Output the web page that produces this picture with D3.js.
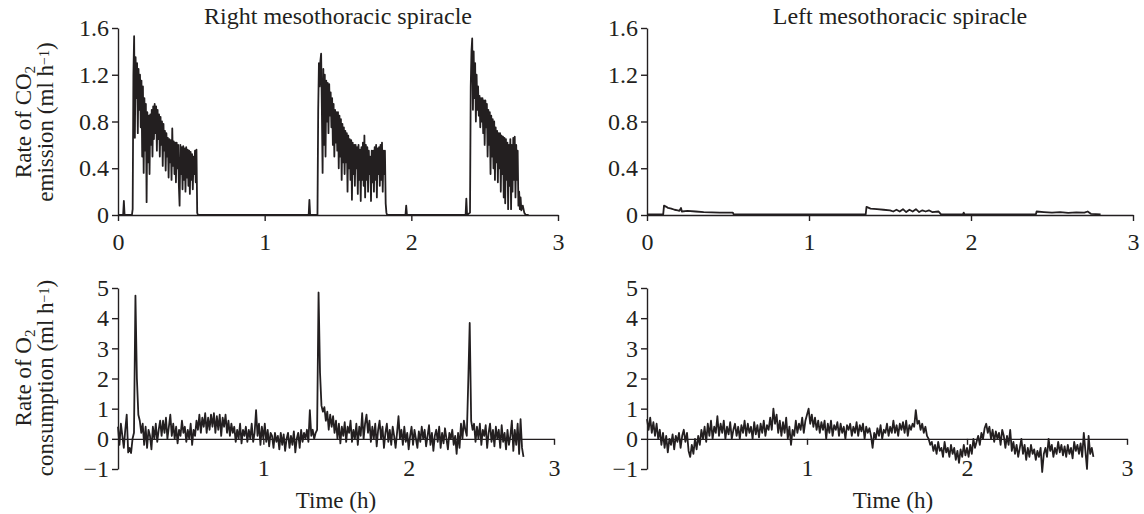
<!doctype html>
<html lang="en">
<head>
<meta charset="utf-8">
<title>Spiracle gas exchange</title>
<script src="https://cdn.jsdelivr.net/npm/d3@7"></script>
<style>
  body { margin: 0; background: #fff; }
  svg { display: block; font-family: "Liberation Serif", "Times New Roman", serif; }
  .axis path, .axis line { stroke: #231f20; stroke-width: 1.4; }
  .axis text { fill: #231f20; font-size: 24px; font-family: "Liberation Serif", "Times New Roman", serif; }
  .trace { fill: none; stroke: #231f20; stroke-width: 1.8; stroke-linejoin: round; }
  .label { fill: #231f20; font-size: 23px; }
  .title { fill: #231f20; font-size: 24px; }
</style>
</head>
<body>
<svg id="chart" width="1144" height="514"></svg>
<script>
// tick labels
const timeTicks = [0, 1, 2, 3];
const timeTicksLower = [1, 2, 3];
const co2Ticks = [0, 0.4, 0.8, 1.2, 1.6];
const o2Ticks = [-1, 0, 1, 2, 3, 4, 5];

// CO2, right spiracle: [time (h), ml h-1]; flat zero stretches and small blips
const rightCO2Base = [
  [0, 0], [0.035, 0], [0.04, 0.12], [0.045, 0], [0.095, 0], [0.1, 0.05],
  [0.545, 0], [1.3, 0], [1.305, 0.13], [1.31, 0], [1.36, 0],
  [1.835, 0], [1.96, 0], [1.965, 0.08], [1.97, 0], [2.37, 0], [2.375, 0.14], [2.38, 0], [2.4, 0.02],
  [2.8, 0]
];
// the three bursts
const rightCO2Burst1 = [
  [0.105, 1.2], [0.11, 1.53], [0.115, 0.66], [0.12, 1.35], [0.125, 1.0], [0.13, 1.3], [0.135, 0.7],
  [0.14, 1.25], [0.145, 0.9], [0.15, 1.2], [0.155, 0.75], [0.16, 1.15], [0.165, 0.5], [0.17, 1.1],
  [0.175, 0.36], [0.18, 1.0], [0.185, 0.55], [0.19, 0.95], [0.195, 0.11], [0.2, 0.88], [0.205, 0.45],
  [0.21, 0.85], [0.215, 0.35], [0.22, 0.86], [0.225, 0.6], [0.23, 0.9], [0.235, 0.5], [0.24, 0.93],
  [0.245, 0.65], [0.25, 0.95], [0.255, 0.7], [0.26, 0.93], [0.265, 0.55], [0.27, 0.9], [0.275, 0.65],
  [0.28, 0.86], [0.285, 0.5], [0.29, 0.84], [0.295, 0.6], [0.3, 0.8], [0.305, 0.42], [0.31, 0.78],
  [0.315, 0.55], [0.32, 0.72], [0.325, 0.38], [0.33, 0.7], [0.335, 0.5], [0.34, 0.66], [0.345, 0.32],
  [0.35, 0.65], [0.355, 0.45], [0.36, 0.64], [0.365, 0.3], [0.37, 0.74], [0.375, 0.42], [0.38, 0.63],
  [0.385, 0.35], [0.39, 0.62], [0.395, 0.28], [0.4, 0.62], [0.405, 0.4], [0.41, 0.6], [0.415, 0.25],
  [0.42, 0.08], [0.425, 0.6], [0.43, 0.35], [0.435, 0.58], [0.44, 0.22], [0.445, 0.59], [0.45, 0.3],
  [0.455, 0.57], [0.46, 0.2], [0.465, 0.58], [0.47, 0.32], [0.475, 0.56], [0.48, 0.25], [0.485, 0.55],
  [0.49, 0.18], [0.495, 0.54], [0.5, 0.3], [0.505, 0.52], [0.51, 0.22], [0.515, 0.5], [0.52, 0.35],
  [0.525, 0.55], [0.53, 0.28], [0.535, 0.56], [0.54, 0.02]
];
const rightCO2Burst2 = [
  [1.365, 0.9], [1.37, 1.3], [1.375, 1.1], [1.38, 1.32], [1.385, 1.38], [1.39, 0.9], [1.395, 0.36],
  [1.4, 1.25], [1.405, 0.6], [1.41, 1.2], [1.415, 0.5], [1.42, 1.15], [1.425, 0.8], [1.43, 1.13],
  [1.435, 0.7], [1.44, 1.12], [1.445, 0.85], [1.45, 1.05], [1.455, 0.75], [1.46, 1.0], [1.465, 0.6],
  [1.47, 0.95], [1.475, 0.5], [1.48, 0.9], [1.485, 0.62], [1.49, 0.88], [1.495, 0.55], [1.5, 0.88],
  [1.505, 0.4], [1.51, 0.85], [1.515, 0.5], [1.52, 0.82], [1.525, 0.3], [1.53, 0.78], [1.535, 0.45],
  [1.54, 0.75], [1.545, 0.35], [1.55, 0.72], [1.555, 0.45], [1.56, 0.7], [1.565, 0.2], [1.57, 0.68],
  [1.575, 0.4], [1.58, 0.65], [1.585, 0.3], [1.59, 0.64], [1.595, 0.13], [1.6, 0.62], [1.605, 0.35],
  [1.61, 0.6], [1.615, 0.25], [1.62, 0.6], [1.625, 0.4], [1.63, 0.58], [1.635, 0.18], [1.64, 0.6],
  [1.645, 0.3], [1.65, 0.56], [1.655, 0.12], [1.66, 0.58], [1.665, 0.3], [1.67, 0.62], [1.675, 0.25],
  [1.68, 0.68], [1.685, 0.15], [1.69, 0.6], [1.695, 0.3], [1.7, 0.58], [1.705, 0.2], [1.71, 0.55],
  [1.715, 0.35], [1.72, 0.5], [1.725, 0.12], [1.73, 0.55], [1.735, 0.28], [1.74, 0.55], [1.745, 0.2],
  [1.75, 0.58], [1.755, 0.3], [1.76, 0.6], [1.765, 0.15], [1.77, 0.57], [1.775, 0.35], [1.78, 0.58],
  [1.785, 0.25], [1.79, 0.6], [1.795, 0.3], [1.8, 0.62], [1.805, 0.2], [1.81, 0.55], [1.815, 0.35],
  [1.82, 0.55], [1.825, 0.1], [1.83, 0.02]
];
const rightCO2Burst3 = [
  [2.405, 1.1], [2.41, 1.4], [2.415, 1.51], [2.42, 0.9], [2.425, 1.4], [2.43, 1.0], [2.435, 1.3],
  [2.44, 0.8], [2.445, 1.2], [2.45, 0.9], [2.455, 1.1], [2.46, 0.85], [2.465, 1.02], [2.47, 0.75],
  [2.475, 1.0], [2.48, 0.8], [2.485, 1.0], [2.49, 0.7], [2.495, 0.98], [2.5, 0.6], [2.505, 0.98],
  [2.51, 0.75], [2.515, 0.95], [2.52, 0.5], [2.525, 0.9], [2.53, 0.6], [2.535, 0.88], [2.54, 0.35],
  [2.545, 0.85], [2.55, 0.5], [2.555, 0.82], [2.56, 0.4], [2.565, 0.8], [2.57, 0.3], [2.575, 0.75],
  [2.58, 0.45], [2.585, 0.72], [2.59, 0.28], [2.595, 0.7], [2.6, 0.4], [2.605, 0.7], [2.61, 0.2],
  [2.615, 0.68], [2.62, 0.35], [2.625, 0.67], [2.63, 0.15], [2.635, 0.66], [2.64, 0.1], [2.645, 0.65],
  [2.65, 0.3], [2.655, 0.62], [2.66, 0.05], [2.665, 0.6], [2.67, 0.25], [2.675, 0.65], [2.68, 0.05],
  [2.685, 0.6], [2.69, 0.2], [2.695, 0.66], [2.7, 0.3], [2.705, 0.67], [2.71, 0.15], [2.715, 0.6],
  [2.72, 0.3], [2.725, 0.55], [2.73, 0.08], [2.735, 0.2], [2.74, 0.05], [2.745, 0.15], [2.75, 0.04],
  [2.76, 0.08], [2.77, 0.02], [2.78, 0]
];

// CO2, left spiracle
const leftCO2 = [
  [0, 0.005], [0.1, 0.005], [0.105, 0.08], [0.12, 0.07], [0.13, 0.06], [0.15, 0.055], [0.17, 0.045],
  [0.19, 0.04], [0.2, 0.035], [0.21, 0.06], [0.215, 0.03], [0.25, 0.035], [0.3, 0.03], [0.35, 0.025],
  [0.4, 0.022], [0.45, 0.02], [0.5, 0.02], [0.53, 0.02], [0.535, 0.005], [1.35, 0.005], [1.355, 0.07],
  [1.38, 0.055], [1.42, 0.05], [1.46, 0.045], [1.5, 0.04], [1.52, 0.03], [1.54, 0.045], [1.56, 0.03],
  [1.58, 0.05], [1.6, 0.025], [1.62, 0.045], [1.64, 0.03], [1.66, 0.05], [1.68, 0.025], [1.7, 0.04],
  [1.72, 0.03], [1.74, 0.04], [1.76, 0.025], [1.8, 0.03], [1.815, 0.005], [1.95, 0.005], [1.955, 0.02],
  [1.96, 0.005], [2.4, 0.005], [2.405, 0.03], [2.45, 0.025], [2.5, 0.02], [2.55, 0.025], [2.6, 0.018],
  [2.65, 0.022], [2.7, 0.02], [2.72, 0.03], [2.74, 0.01], [2.8, 0.005]
];

// O2 traces, one sample every 0.01 h starting at 0 h, ml h-1
const o2Step = 0.01;
const rightO2 = [
  0.4, -0.2, 0.5, 0.1, -0.3, 0.3, 0.8, -0.45, -0.3, -0.47,
  0.0, 0.2, 4.75, 2.0, 0.8, 0.6, 0.2, 0.5, -0.2, 0.4,
  -0.3, 0.3, 0.1, -0.35, 0.4, 0.0, 0.5, -0.1, 0.3, 0.6,
  0.1, 0.6, 0.2, 0.7, 0.0, 0.4, 0.8, 0.1, 0.5, 0.0,
  0.4, -0.15, 0.3, 0.1, 0.6, 0.2, 0.4, -0.1, 0.3, 0.0,
  0.5, -0.2, 0.3, 0.1, 0.6, 0.3, 0.8, 0.2, 0.7, 0.4,
  0.85, 0.2, 0.7, 0.3, 0.8, 0.4, 0.85, 0.2, 0.75, 0.3,
  0.8, 0.1, 0.7, 0.4, 0.8, 0.2, 0.6, 0.1, 0.5, 0.2,
  0.4, -0.1, 0.3, 0.0, 0.5, -0.15, 0.3, 0.1, 0.4, -0.1,
  0.3, 0.0, 0.5, -0.1, 0.2, 0.95, 0.1, 0.5, -0.2, 0.4,
  0.0, 0.5, -0.1, 0.3, -0.25, 0.2, 0.1, -0.3, 0.2, -0.1,
  0.1, -0.35, 0.2, -0.2, 0.15, -0.4, 0.0, 0.2, -0.3, 0.1,
  -0.2, 0.25, -0.45, 0.0, 0.2, -0.3, 0.3, -0.1, 0.2, 0.0,
  0.3, -0.1, 0.95, 0.1, 0.3, 0.0, 0.2, 0.3, 4.85, 2.2,
  1.1, 0.9, 1.05, 0.6, 0.9, 0.3, 0.8, 0.4, 0.75, 0.2,
  0.6, 0.0, 0.5, -0.15, 0.4, 0.1, 0.55, -0.1, 0.4, 0.2,
  0.6, -0.1, 0.3, 0.0, 0.5, -0.2, 0.4, 0.1, 0.85, 0.0,
  0.5, 0.8, 0.2, 0.6, -0.1, 0.4, 0.0, 0.5, -0.25, 0.3,
  0.6, 0.0, 0.4, -0.3, 0.2, 0.5, -0.1, 0.3, -0.2, 0.4,
  0.1, -0.3, 0.2, 0.75, 0.0, 0.3, -0.2, 0.4, -0.1, 0.2,
  -0.35, 0.1, 0.4, -0.2, 0.3, 0.0, -0.3, 0.25, -0.1, 0.4,
  0.0, 0.3, -0.25, 0.1, 0.45, -0.2, 0.2, -0.4, 0.1, 0.3,
  -0.1, 0.4, -0.3, 0.2, -0.15, 0.35, 0.0, -0.35, 0.2, 0.0,
  0.3, -0.2, 0.1, -0.5, 0.2, -0.3, 0.5, 0.0, 0.6, 0.3,
  0.1, 1.9, 3.84, 0.6, 0.3, 0.5, -0.1, 0.4, 0.0, 0.5,
  -0.2, 0.3, 0.1, 0.45, -0.3, 0.2, 0.5, -0.1, 0.3, -0.25,
  0.4, 0.0, 0.3, -0.3, 0.45, -0.1, 0.2, -0.35, 0.3, -0.2,
  0.1, 0.6, -0.4, 0.3, -0.2, 0.5, -0.5, 0.65, -0.3, -0.6
];

const leftO2 = [
  0.65, 0.3, 0.7, 0.2, 0.55, 0.1, 0.5, 0.0, 0.3, -0.2,
  0.2, -0.3, 0.1, -0.45, 0.0, -0.2, 0.15, -0.35, 0.1, -0.1,
  0.2, -0.3, 0.1, 0.3, -0.1, 0.2, -0.4, -0.6, -0.2, -0.5,
  0.0, -0.35, 0.1, -0.2, 0.3, 0.0, 0.4, -0.1, 0.5, 0.1,
  0.6, 0.0, 0.4, 0.2, 0.75, 0.1, 0.5, 0.2, 0.6, 0.0,
  0.4, 0.15, 0.55, 0.0, 0.3, 0.5, 0.1, 0.4, 0.0, 0.45,
  0.2, 0.6, 0.1, 0.5, 0.2, 0.4, 0.0, 0.55, 0.15, 0.45,
  0.05, 0.5, 0.2, 0.6, 0.1, 0.45, 0.3, 0.7, 0.3, 1.0,
  0.5, 0.8, 0.2, 0.6, 0.1, 0.55, 0.2, 0.7, 0.0, 0.4,
  -0.2, 0.3, 0.1, 0.6, 0.2, 0.5, 0.3, 0.7, 0.2, 0.6,
  0.8, 1.0, 0.5, 0.8, 0.4, 0.7, 0.3, 0.6, 0.2, 0.55,
  0.3, 0.6, 0.0, 0.5, 0.2, 0.6, 0.1, 0.45, 0.3, 0.55,
  0.1, 0.5, 0.2, 0.4, 0.0, 0.45, 0.3, 0.5, 0.1, 0.4,
  0.2, 0.55, 0.1, 0.45, 0.25, 0.5, 0.0, 0.4, 0.2, 0.35,
  0.1, -0.3, 0.2, 0.0, 0.35, 0.1, 0.45, 0.0, 0.3, 0.2,
  0.5, 0.1, 0.4, 0.2, 0.6, 0.2, 0.45, 0.1, 0.5, 0.3,
  0.55, 0.2, 0.6, 0.1, 0.45, 0.3, 0.5, 0.4, 0.95, 0.5,
  0.6, 0.3, 0.5, 0.2, 0.4, 0.1, 0.0, -0.2, -0.1, -0.4,
  -0.2, -0.5, -0.1, -0.4, -0.3, -0.6, -0.1, -0.45, -0.3, -0.6,
  -0.2, -0.5, -0.3, -0.7, -0.4, -0.8, -0.35, -0.6, -0.2, -0.55,
  -0.3, -0.6, -0.2, -0.5, 0.0, -0.3, -0.1, 0.1, -0.2, 0.2,
  0.0, 0.35, 0.5, 0.2, 0.4, 0.0, 0.3, -0.1, 0.25, 0.0,
  0.2, -0.2, 0.3, 0.1, -0.3, 0.1, -0.2, 0.3, -0.4, -0.1,
  -0.5, -0.2, -0.6, -0.3, 0.0, -0.5, -0.2, -0.7, -0.3, -0.6,
  -0.2, -0.5, -0.35, -0.7, -0.4, -0.6, -0.3, -1.1, -0.5, -0.3,
  -0.6, 0.0, -0.4, -0.2, -0.6, -0.3, -0.5, -0.1, -0.45, -0.2,
  -0.55, -0.25, -0.6, -0.2, -0.5, -0.3, -0.65, -0.1, -0.4, -0.2,
  -0.5, -0.15, -0.6, 0.2, -0.4, -1.0, 0.1, -0.5, -0.3, -0.6
];

const svg = d3.select("#chart");
const asPairs = vals => vals.map((v, i) => [i * o2Step, v]);
const rightCO2 = rightCO2Base.concat(rightCO2Burst1, rightCO2Burst2, rightCO2Burst3)
    .sort((a, b) => a[0] - b[0]);

const panels = [
  {data: rightCO2, xr: [118, 558], yr: [215, 28], yd: [0, 1.6], yt: co2Ticks, xt: timeTicks, pad: 12},
  {data: leftCO2, xr: [647, 1133], yr: [215, 28], yd: [0, 1.6], yt: co2Ticks, xt: timeTicks, pad: 12},
  {data: asPairs(rightO2), xr: [118, 554], yr: [469, 288], yd: [-1, 5], yt: o2Ticks, xt: timeTicksLower, pad: 14},
  {data: asPairs(leftO2), xr: [647, 1127], yr: [469, 288], yd: [-1, 5], yt: o2Ticks, xt: timeTicksLower, pad: 14}
];

panels.forEach(p => {
  const x = d3.scaleLinear().domain([0, 3]).range(p.xr);
  const y = d3.scaleLinear().domain(p.yd).range(p.yr);
  const line = d3.line().x(d => x(d[0])).y(d => y(d[1]));

  svg.append("path")
      .datum(p.data)
      .attr("class", "trace")
      .attr("d", line);

  svg.append("g")
      .attr("class", "axis")
      .attr("transform", "translate(" + p.xr[0] + ",0)")
      .call(d3.axisLeft(y).tickValues(p.yt).tickSize(6).tickSizeOuter(0).tickFormat(d3.format("")));

  svg.append("g")
      .attr("class", "axis")
      .attr("transform", "translate(0," + y(0) + ")")
      .call(d3.axisBottom(x).tickValues(p.xt).tickSize(6).tickSizeOuter(0).tickPadding(p.pad).tickFormat(d3.format("")));
});

// titles
svg.append("text").attr("class", "title").attr("x", 338).attr("y", 24)
    .attr("text-anchor", "middle").text("Right mesothoracic spiracle");
svg.append("text").attr("class", "title").attr("x", 900).attr("y", 24)
    .attr("text-anchor", "middle").text("Left mesothoracic spiracle");

// x labels
svg.append("text").attr("class", "label").attr("x", 336).attr("y", 508)
    .attr("text-anchor", "middle").text("Time (h)");
svg.append("text").attr("class", "label").attr("x", 893).attr("y", 508)
    .attr("text-anchor", "middle").text("Time (h)");

// rotated y labels, with sub/superscripts
function yLabel(cx, cy, parts) {
  const t = svg.append("text").attr("class", "label")
      .attr("transform", "translate(" + cx + "," + cy + ") rotate(-90)")
      .attr("text-anchor", "middle");
  parts.forEach(p => {
    const s = t.append("tspan").text(p.t);
    if (p.sub) s.attr("dy", "0.25em").attr("font-size", "15px");
    if (p.sup) s.attr("dy", "-0.32em").attr("font-size", "14px");
    if (p.back) s.attr("dy", p.back);
  });
}

yLabel(31, 122, [{t: "Rate of CO"}, {t: "2", sub: true}]);
yLabel(53, 122, [{t: "emission (ml h"}, {t: "\u22121", sup: true}, {t: ")", back: "0.2em"}]);
yLabel(31, 378, [{t: "Rate of O"}, {t: "2", sub: true}]);
yLabel(53, 378, [{t: "consumption (ml h"}, {t: "\u22121", sup: true}, {t: ")", back: "0.2em"}]);
</script>
</body>
</html>
